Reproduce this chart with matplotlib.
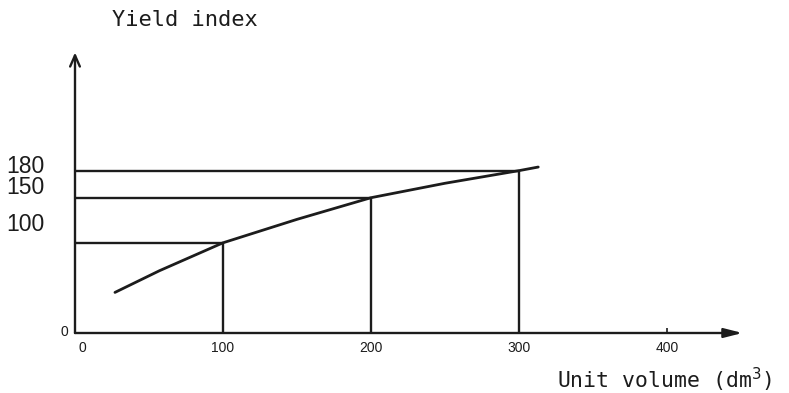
import matplotlib
matplotlib.use("Agg")
import matplotlib.pyplot as plt
from matplotlib.transforms import offset_copy

# Yield index against unit volume
curve_x = [27, 57, 100, 150, 200, 250, 300, 313]
curve_y = [45, 69, 100, 126, 150, 166, 180, 184]

# Marked reference points (volume, yield index)
marked_x = [100, 200, 300]
marked_y = [100, 150, 180]

x_ticks = [0, 100, 200, 300, 400]
y_labels = [180, 150, 100]
y_label_lift = [3, 7, 13]  # points above each guide line

x_axis_end = 451
y_axis_end = 311

ink = "#1c1c1c"
lw = 1.7

fig = plt.figure(figsize=(7.89, 3.93), dpi=100)
ax = fig.add_axes([0, 0, 1, 1])
ax.set_xlim(-75 / 1.48, (789 - 75) / 1.48)
ax.set_ylim(-60 / 0.902, 333 / 0.902)
ax.axis("off")

# axes with arrow heads
ax.annotate("", xy=(x_axis_end, 0), xytext=(0, 0),
            arrowprops=dict(arrowstyle="-|>,head_length=1.1,head_width=0.28",
                            color=ink, lw=lw, shrinkA=0, shrinkB=0))
ax.annotate("", xy=(0, y_axis_end), xytext=(0, 0),
            arrowprops=dict(arrowstyle="->,head_length=0.8,head_width=0.35",
                            color=ink, lw=lw, shrinkA=0, shrinkB=0))

# small tick at 400
ax.plot([400, 400], [0, 6], color=ink, lw=1.2, solid_capstyle="butt")

# guide lines from the axes to each marked point
for mx, my in zip(marked_x, marked_y):
    ax.plot([0, mx], [my, my], color=ink, lw=lw, solid_capstyle="butt")
    ax.plot([mx, mx], [0, my], color=ink, lw=lw, solid_capstyle="butt")

# response curve
ax.plot(curve_x, curve_y, color=ink, lw=lw + 0.3, solid_capstyle="round",
        solid_joinstyle="round")

# x tick labels
for t in x_ticks:
    dx = 7 if t == 0 else 0
    ax.text(t + dx / 1.48, -17, str(t), ha="center", va="center",
            fontsize=10, family="Liberation Sans", color=ink)

# y labels
for v, lift in zip(y_labels, y_label_lift):
    tr = offset_copy(ax.transData, fig=fig, x=0, y=lift, units="points")
    ax.text(-31 / 1.48, v, str(v), transform=tr, ha="right", va="center",
            fontsize=16.5, family="Liberation Sans", color=ink)
ax.text(-7 / 1.48, 1, "0", ha="right", va="center",
        fontsize=10, family="Liberation Sans", color=ink)

# axis titles
ax.text((112 - 75) / 1.48, (333 - 20) / 0.902, "Yield index",
        ha="left", va="center", fontsize=15.8, family="DejaVu Sans Mono", color=ink)
ax.text((557 - 75) / 1.48, (333 - 380) / 0.902, "Unit volume (dm$^{3}$)",
        ha="left", va="center", fontsize=15.5, family="DejaVu Sans Mono", color=ink)

fig.savefig("out.png", dpi=100, facecolor="white")
